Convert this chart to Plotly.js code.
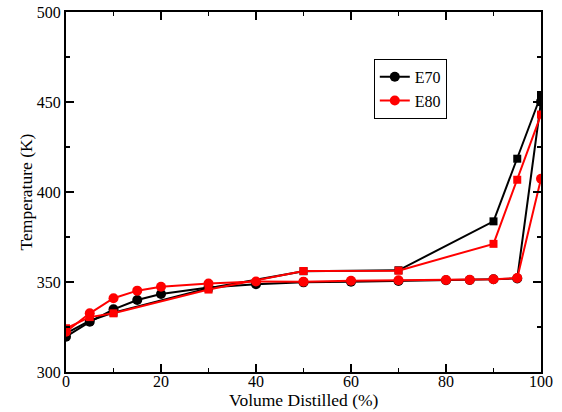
<!DOCTYPE html>
<html><head><meta charset="utf-8">
<script src="https://cdn.plot.ly/plotly-3.0.1.min.js"></script>
<style>html,body{margin:0;padding:0;background:#fff}</style>
</head><body>
<div id="chart" style="width:562px;height:412px"></div>
<script>
const circX = [0, 5, 10, 15, 20, 30, 40, 50, 60, 70, 80, 85, 90, 95, 100];
const e70Circ = [319.6, 327.9, 334.8, 340, 343.3, 347, 348.8, 349.8, 350.2, 350.6, 351, 351.1, 351.5, 352, 450.2];
const e80Circ = [322.4, 332.6, 341.0, 345.2, 347.4, 349.2, 350.3, 350.2, 350.7, 351, 351.1, 351.2, 351.5, 352.2, 407.4];
const sqX = [0, 5, 10, 30, 50, 70, 90, 95, 100];
const e70Sq = [321.5, 328.5, 333, 346.5, 356, 356.5, 383.7, 418.5, 453.9];
const e80Sq = [324.3, 330.5, 332.6, 345.8, 356.1, 356.3, 371.2, 406.8, 443];
const xTitle = 'Volume Distilled (%)';
const yTitle = 'Temperature (K)';

const traces = [
  {x: circX, y: e70Circ, name: 'E70', mode: 'lines+markers', line: {color: '#000', width: 2}, marker: {symbol: 'circle', size: 10, color: '#000'}},
  {x: sqX, y: e70Sq, name: 'E70 sq', showlegend: false, mode: 'lines+markers', line: {color: '#000', width: 2}, marker: {symbol: 'square', size: 8, color: '#000'}},
  {x: circX, y: e80Circ, name: 'E80', mode: 'lines+markers', line: {color: '#ff0000', width: 2}, marker: {symbol: 'circle', size: 10, color: '#ff0000'}},
  {x: sqX, y: e80Sq, name: 'E80 sq', showlegend: false, mode: 'lines+markers', line: {color: '#ff0000', width: 2}, marker: {symbol: 'square', size: 8, color: '#ff0000'}}
];

const fam = '"Liberation Serif", "Times New Roman", serif';
const tickFont = {family: fam, size: 16, color: '#000'};
const titleFont = {family: fam, size: 17.5, color: '#000'};
const layout = {
  width: 562, height: 412,
  margin: {l: 66, r: 21, t: 12, b: 40},
  paper_bgcolor: '#fff', plot_bgcolor: '#fff',
  font: tickFont,
  showlegend: true,
  legend: {x: 0.648, y: 0.87, xanchor: 'left', yanchor: 'top', bordercolor: '#000', borderwidth: 1,
           bgcolor: '#fff', font: {family: fam, size: 16, color: '#000'}, tracegroupgap: 0, itemwidth: 30},
  xaxis: {range: [0, 100], dtick: 20, tick0: 0, ticks: 'inside', ticklen: 8, tickwidth: 1.5, tickcolor: '#000',
          showline: true, linecolor: '#000', linewidth: 2, mirror: 'allticks', showgrid: false, zeroline: false,
          ticklabelstandoff: -6,
          minor: {dtick: 10, ticks: 'inside', ticklen: 4, tickwidth: 1.5, tickcolor: '#000', showgrid: false},
          tickfont: tickFont},
  yaxis: {range: [300, 500], dtick: 50, tick0: 300, ticks: 'inside', ticklen: 8, tickwidth: 1.5, tickcolor: '#000',
          showline: true, linecolor: '#000', linewidth: 2, mirror: 'allticks', showgrid: false, zeroline: false,
          minor: {dtick: 25, ticks: 'inside', ticklen: 4, tickwidth: 1.5, tickcolor: '#000', showgrid: false},
          title: {text: yTitle, font: titleFont, standoff: 0}, tickfont: tickFont},
  annotations: [{text: xTitle, xref: 'paper', yref: 'paper', x: 0.5, y: -0.1083, xanchor: 'center', yanchor: 'bottom',
                 showarrow: false, font: titleFont, borderpad: 0}]
};
Plotly.newPlot('chart', traces, layout, {displayModeBar: false, staticPlot: true});
</script>
</body></html>
